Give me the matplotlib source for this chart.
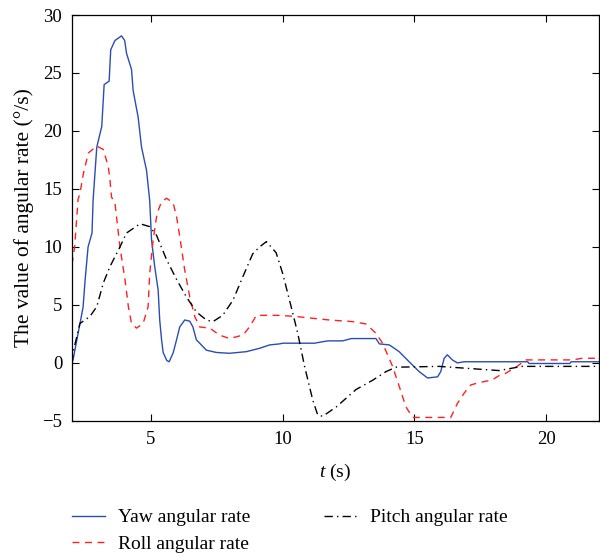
import matplotlib
matplotlib.use("Agg")
import matplotlib.pyplot as plt

plt.rcParams['font.family'] = ['Liberation Serif', 'DejaVu Serif']
plt.rcParams['mathtext.fontset'] = 'custom'
plt.rcParams['mathtext.it'] = 'Liberation Serif:italic'

# yaw angular rate (blue, solid)
yaw_t = [2.0, 2.04, 2.42, 2.5, 2.61, 2.76, 2.8, 2.94, 3.13, 3.22, 3.41, 3.47, 3.63, 3.88,
         4.0, 4.07, 4.26, 4.32, 4.51, 4.64, 4.83, 4.95, 5.02, 5.14, 5.27, 5.33, 5.40, 5.46,
         5.6, 5.69, 5.84, 5.97, 6.09, 6.28, 6.47, 6.59, 6.72, 7.10, 7.48, 7.98, 8.62, 9.12,
         9.5, 9.88, 10.0, 11.2, 11.71, 12.28, 12.6, 13.54, 13.67, 14.05, 14.42, 14.8, 15.18,
         15.5, 15.88, 16.0, 16.13, 16.25, 16.44, 16.63, 16.89, 18.97, 19.3, 19.35, 20.9,
         20.95, 22.0]
yaw_v = [0.0, 0.26, 4.8, 7.2, 10.0, 11.2, 14.0, 18.6, 20.4, 24.0, 24.3, 27.0, 27.8, 28.2,
         27.8, 26.7, 25.3, 23.5, 21.2, 18.6, 16.6, 14.0, 10.6, 8.3, 6.3, 3.7, 2.0, 0.9,
         0.2, 0.1, 0.86, 2.0, 3.1, 3.7, 3.6, 3.1, 2.0, 1.1, 0.9, 0.83, 0.97, 1.26,
         1.55, 1.64, 1.7, 1.7, 1.9, 1.9, 2.1, 2.1, 1.64, 1.55, 0.97, 0.1, -0.75,
         -1.3, -1.2, -0.75, 0.4, 0.7, 0.26, 0.0, 0.1, 0.1, 0.1, -0.05, -0.05,
         0.1, 0.1]

# roll angular rate (red, dashed)
roll_t = [2.0, 2.1, 2.23, 2.3, 2.43, 2.62, 2.94, 3.19, 3.38, 3.44, 3.5, 3.63, 3.82, 4.01,
          4.14, 4.26, 4.45, 4.70, 4.89, 4.95, 5.08, 5.23, 5.40, 5.59, 5.84, 5.97, 6.09,
          6.28, 6.47, 6.66, 6.85, 7.23, 7.6, 7.98, 8.49, 8.74, 9.0, 9.88, 10.51, 11.77,
          12.66, 13.16, 13.54, 13.79, 14.17, 14.42, 14.68, 14.93, 16.38, 16.63, 16.89,
          17.14, 17.45, 17.95, 18.21, 18.46, 18.9, 19.22, 21.0, 21.37, 22.0]
roll_v = [8.5, 10.0, 14.1, 14.6, 16.3, 18.1, 18.7, 18.4, 16.9, 15.8, 14.3, 13.8, 10.0, 7.2,
          4.85, 3.4, 3.0, 3.4, 4.85, 7.7, 10.6, 12.9, 13.9, 14.2, 13.8, 12.6, 10.9,
          8.0, 5.7, 4.0, 3.1, 3.0, 2.4, 2.1, 2.4, 3.1, 4.1, 4.1, 4.0, 3.7,
          3.56, 3.36, 2.56, 1.7, -0.3, -2.0, -3.8, -4.7, -4.7, -3.5, -2.6,
          -1.9, -1.7, -1.47, -1.1, -0.9, -0.3, 0.26, 0.26, 0.4, 0.4]

# pitch angular rate (black, dash-dot)
pitch_t = [2.0, 2.04, 2.3, 2.68, 2.94, 3.19, 3.44, 3.82, 4.07, 4.58, 4.95, 5.21, 5.59,
           5.97, 6.34, 6.72, 7.1, 7.35, 7.72, 8.11, 8.48, 8.86, 9.12, 9.38, 9.75, 10.0,
           10.32, 10.57, 10.83, 11.14, 11.33, 11.52, 12.03, 12.78, 13.41, 13.92, 14.3,
           15.94, 16.95, 18.21, 19.08, 22.0]
pitch_v = [0.0, 0.9, 3.4, 4.0, 4.85, 6.9, 8.3, 10.0, 11.2, 12.0, 11.75, 11.0, 8.9,
           7.2, 5.7, 4.4, 3.7, 3.56, 4.1, 5.4, 7.4, 9.4, 10.0, 10.46, 9.5, 7.7,
           4.85, 2.56, -0.3, -3.2, -4.5, -4.6, -3.8, -2.3, -1.5, -0.75, -0.37,
           -0.3, -0.46, -0.66, -0.3, -0.3]

fig = plt.figure(figsize=(6, 5.56), dpi=100)
ax = fig.add_axes([0.12, 0.243, 0.878, 0.73])

l1, = ax.plot(yaw_t, yaw_v, color='#2a4db3', lw=1.0, label='Yaw angular rate')
l2, = ax.plot(roll_t, roll_v, color='#ff2020', lw=1.0, linestyle=(0, (5, 4)), label='Roll angular rate')
l3, = ax.plot(pitch_t, pitch_v, color='black', lw=1.0, linestyle=(0, (6, 3, 1, 3)), label='Pitch angular rate')

ax.set_xlim(2, 22)
ax.set_ylim(-5, 30)
ax.set_xticks([5, 10, 15, 20])
ax.set_yticks([-5, 0, 5, 10, 15, 20, 25, 30])
ax.set_yticklabels(['\u22125', '0', '5', '10', '15', '20', '25', '30'])
ax.tick_params(direction='in', top=True, right=True, labelsize=13.5, length=5, width=0.8, pad=7)
for s in ax.spines.values():
    s.set_linewidth(0.9)

ax.set_xlabel('$t$ (s)', fontsize=14, labelpad=10)
ax.set_ylabel('The value of angular rate (\u00b0/s)', fontsize=15.5, labelpad=6)

fig.legend(handles=[l1, l2, l3], loc='upper left', bbox_to_anchor=(0.12, 0.085),
           ncol=2, frameon=False, fontsize=14, handlelength=1.7, columnspacing=3.8,
           labelspacing=0.45, handletextpad=0.65, borderpad=0, borderaxespad=0)

fig.savefig('out.png', dpi=100)
